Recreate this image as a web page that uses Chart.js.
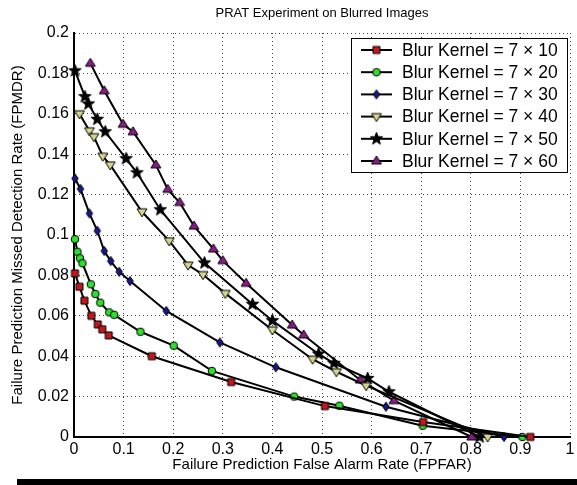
<!DOCTYPE html>
<html>
<head>
<meta charset="utf-8">
<script src="https://cdn.jsdelivr.net/npm/chart.js@4/dist/chart.umd.min.js"></script>
<style>
  html, body { margin: 0; padding: 0; background: #fff; }
  #wrap { position: relative; width: 577px; height: 485px; overflow: hidden; }
  #bar { position: absolute; left: 17px; top: 479px; width: 560px; height: 6px; background: #000; }
</style>
</head>
<body>
<div id="wrap">
  <canvas id="mycanvas" width="577" height="485"></canvas>
  <div id="bar"></div>
</div>
<script>
// PRAT curves, one pair of arrays per blur kernel (x = FPFAR, y = FPMDR)
const kernelNames = ['Blur Kernel = 7 \u00d7 10', 'Blur Kernel = 7 \u00d7 20', 'Blur Kernel = 7 \u00d7 30',
                     'Blur Kernel = 7 \u00d7 40', 'Blur Kernel = 7 \u00d7 50', 'Blur Kernel = 7 \u00d7 60'];

const far10 = [0.002, 0.011, 0.021, 0.035, 0.048, 0.057, 0.070, 0.157, 0.317, 0.506, 0.704, 0.920];
const mdr10 = [0.081, 0.0744, 0.0675, 0.060, 0.0557, 0.0533, 0.0503, 0.040, 0.0272, 0.0153, 0.0074, 0.0];

const far20 = [0.002, 0.007, 0.012, 0.017, 0.034, 0.043, 0.053, 0.071, 0.081, 0.134, 0.201, 0.278, 0.444, 0.535, 0.703, 0.904];
const mdr20 = [0.0979, 0.0917, 0.0885, 0.086, 0.0756, 0.0708, 0.0665, 0.0617, 0.0605, 0.0521, 0.0452, 0.0327, 0.020, 0.0155, 0.0056, 0.0];

const far30 = [0.002, 0.013, 0.031, 0.047, 0.061, 0.074, 0.091, 0.113, 0.186, 0.294, 0.407, 0.629, 0.867];
const mdr30 = [0.128, 0.1228, 0.1107, 0.1021, 0.0921, 0.0871, 0.0818, 0.0772, 0.0624, 0.0468, 0.0345, 0.015, 0.0];

const far40 = [0.011, 0.031, 0.040, 0.058, 0.073, 0.137, 0.192, 0.230, 0.260, 0.305, 0.400, 0.481, 0.529, 0.589, 0.834];
const mdr40 = [0.160, 0.1516, 0.1487, 0.139, 0.1347, 0.1115, 0.0971, 0.0851, 0.0804, 0.0711, 0.053, 0.0385, 0.0323, 0.0254, 0.0];

const far50 = [0.002, 0.022, 0.029, 0.047, 0.063, 0.105, 0.127, 0.174, 0.263, 0.360, 0.400, 0.493, 0.524, 0.592, 0.635, 0.818];
const mdr50 = [0.1813, 0.1685, 0.1649, 0.1573, 0.1511, 0.1378, 0.1308, 0.1125, 0.0862, 0.0657, 0.0576, 0.0411, 0.0365, 0.029, 0.0224, 0.0];

const far60 = [0.033, 0.061, 0.099, 0.119, 0.165, 0.189, 0.213, 0.242, 0.281, 0.300, 0.347, 0.440, 0.463, 0.577, 0.645, 0.802];
const mdr60 = [0.185, 0.1714, 0.1548, 0.1511, 0.1347, 0.1226, 0.1161, 0.1044, 0.0931, 0.0873, 0.0761, 0.0554, 0.0505, 0.0282, 0.018, 0.0];

const xTicks = [0, 0.1, 0.2, 0.3, 0.4, 0.5, 0.6, 0.7, 0.8, 0.9, 1];
const yTicks = [0, 0.02, 0.04, 0.06, 0.08, 0.1, 0.12, 0.14, 0.16, 0.18, 0.2];

const FONT = 'Liberation Sans, Arial, Helvetica, sans-serif';

// marker images, matlab style
function marker(shape, fill, r) {
  const s = Math.ceil(r * 2 + 4);
  const cv = document.createElement('canvas');
  cv.width = s; cv.height = s;
  const c = cv.getContext('2d');
  const m = s / 2;
  c.beginPath();
  if (shape == 'square') {
    c.rect(m - r, m - r, r * 2, r * 2);
  } else if (shape == 'circle') {
    c.arc(m, m, r, 0, Math.PI * 2);
  } else if (shape == 'diamond') {
    c.moveTo(m, m - r); c.lineTo(m + r * 0.7, m); c.lineTo(m, m + r); c.lineTo(m - r * 0.7, m);
  } else if (shape == 'tridown') {
    c.moveTo(m - r, m - r * 0.6); c.lineTo(m + r, m - r * 0.6); c.lineTo(m, m + r);
  } else if (shape == 'triup') {
    c.moveTo(m - r, m + r * 0.6); c.lineTo(m + r, m + r * 0.6); c.lineTo(m, m - r);
  } else if (shape == 'star') {
    for (let i = 0; i < 10; i++) {
      const a = -Math.PI / 2 + i * Math.PI / 5;
      const rr = i % 2 == 0 ? r : r * 0.42;
      const px = m + rr * Math.cos(a), py = m + rr * Math.sin(a);
      if (i == 0) c.moveTo(px, py); else c.lineTo(px, py);
    }
  }
  c.closePath();
  c.fillStyle = fill;
  c.fill();
  c.lineWidth = 1;
  c.strokeStyle = '#000';
  c.stroke();
  return cv;
}

const markers = [
  marker('square', '#c0181c', 3.5),
  marker('circle', '#2ee02e', 3.8),
  marker('diamond', '#17178f', 4.6),
  marker('tridown', '#d6d68c', 5),
  marker('star', '#000', 6.5),
  marker('triup', '#8a1a8a', 5)
];

function pts(xs, ys) {
  return xs.map((x, i) => ({ x: x, y: ys[i] }));
}

const series = [[far10, mdr10], [far20, mdr20], [far30, mdr30], [far40, mdr40], [far50, mdr50], [far60, mdr60]];

const datasets = series.map((s, i) => ({
  label: kernelNames[i],
  data: pts(s[0], s[1]),
  showLine: true,
  borderColor: '#000',
  borderWidth: 2,
  pointStyle: markers[i],
  pointRadius: 5,
  pointHoverRadius: 5,
  tension: 0,
  fill: false,
  clip: false
}));

// title + boxed legend inside the axes
const extras = {
  id: 'extras',
  afterDraw(chart) {
    const ctx = chart.ctx;
    const a = chart.chartArea;
    ctx.save();
    ctx.fillStyle = '#000';
    ctx.font = '13px ' + FONT;
    ctx.textAlign = 'center';
    ctx.textBaseline = 'middle';
    ctx.fillText('PRAT Experiment on Blurred Images', (a.left + a.right) / 2, 13);

    // legend
    const bx = 351, by = 38, bw = 216, bh = 134;
    ctx.fillStyle = '#fff';
    ctx.fillRect(bx, by, bw, bh);
    ctx.lineWidth = 1;
    ctx.strokeStyle = '#000';
    ctx.strokeRect(bx + 0.5, by + 0.5, bw, bh);
    ctx.font = '17.5px ' + FONT;
    ctx.textAlign = 'left';
    for (let i = 0; i < kernelNames.length; i++) {
      const yy = 50 + i * 22.2;
      ctx.beginPath();
      ctx.moveTo(361, yy); ctx.lineTo(392, yy);
      ctx.lineWidth = 2;
      ctx.stroke();
      const mk = markers[i];
      ctx.drawImage(mk, 376.5 - mk.width / 2, yy - mk.height / 2);
      ctx.fillStyle = '#000';
      ctx.fillText(kernelNames[i], 402, yy + 1);
    }
    ctx.restore();
  }
};

const tickFmt = v => String(+v.toFixed(2));

new Chart(document.getElementById('mycanvas'), {
  type: 'scatter',
  data: { datasets: datasets },
  options: {
    responsive: false,
    animation: false,
    events: [],
    layout: { padding: { left: 0, right: 1, top: 33, bottom: 0 } },
    plugins: { legend: { display: false }, tooltip: { enabled: false }, title: { display: false } },
    scales: {
      x: {
        type: 'linear',
        min: 0, max: 1,
        afterBuildTicks: s => { s.ticks = xTicks.map(v => ({ value: v })); },
        afterFit: s => { s.height = 48; s.paddingLeft = 0; s.paddingRight = 0; },
        ticks: { callback: tickFmt, color: '#000', padding: 3, maxRotation: 0, font: { family: FONT, size: 16 } },
        grid: { color: '#444', lineWidth: 1, drawTicks: false },
        border: { color: '#000', width: 2, dash: [1, 3] },
        title: { display: true, text: 'Failure Prediction False Alarm Rate (FPFAR)', color: '#000',
                 font: { family: FONT, size: 15 }, padding: { top: 0, bottom: 11 } }
      },
      y: {
        type: 'linear',
        min: 0, max: 0.2,
        afterBuildTicks: s => { s.ticks = yTicks.map(v => ({ value: v })); },
        afterFit: s => { s.width = 74; s.paddingTop = 0; s.paddingBottom = 0; },
        ticks: { callback: tickFmt, color: '#000', padding: 5, font: { family: FONT, size: 16 } },
        grid: { color: '#444', lineWidth: 1, drawTicks: false },
        border: { color: '#000', width: 2, dash: [1, 3] },
        title: { display: true, text: 'Failure Prediction Missed Detection Rate (FPMDR)', color: '#000',
                 font: { family: FONT, size: 15 }, padding: { top: 9, bottom: 0 } }
      }
    }
  },
  plugins: [extras]
});
</script>
</body>
</html>
